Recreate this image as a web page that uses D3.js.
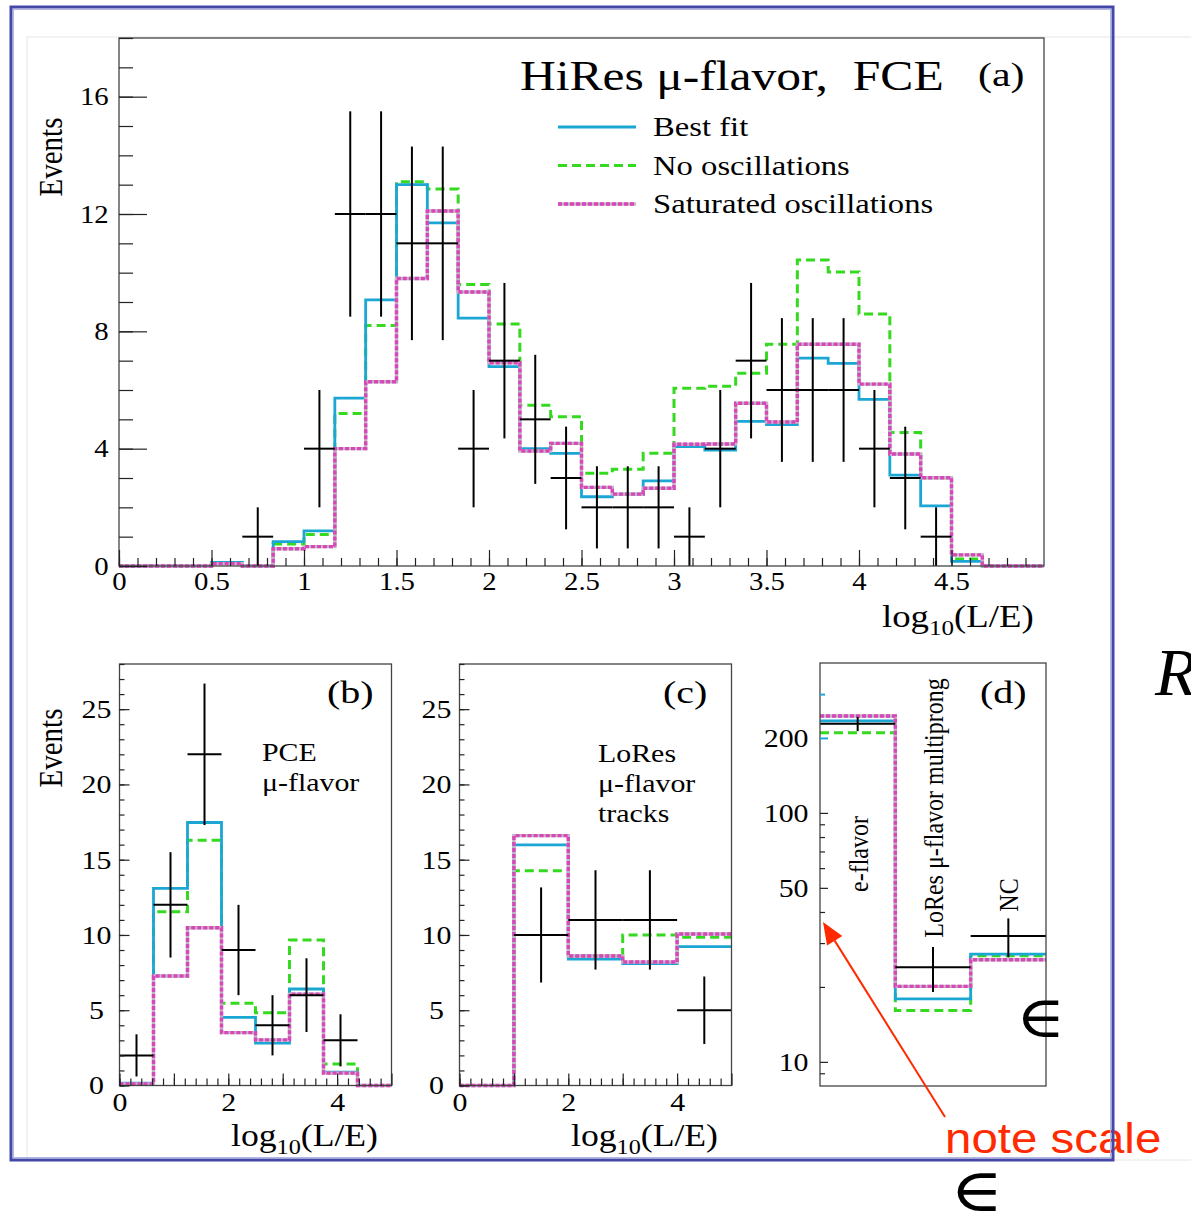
<!DOCTYPE html>
<html>
<head>
<meta charset="utf-8">
<script src="https://cdn.jsdelivr.net/npm/d3@7"></script>
<style>
  body { margin: 0; background: #fff; }
  svg { display: block; }
</style>
</head>
<body>
<svg id="fig" width="1191" height="1223"></svg>
<script>
// ---------------- data ----------------
// (a) HiRes mu-flavor, fully contained events: 30 bins of width 1/6 in log10(L/E)
const binsA = d3.range(31).map(i => i / 6);
const bestFitA = [0, 0, 0, 0.12, 0, 0.83, 1.2, 5.72, 9.07, 13.0, 11.7, 8.45, 6.8, 4.0, 3.84,
                  2.36, 2.45, 2.9, 4.07, 3.95, 4.93, 4.82, 7.09, 6.91, 5.68, 3.1, 2.05, 0.16, 0, 0];
const noOscA   = [0, 0, 0, 0.1, 0, 0.75, 1.07, 5.2, 8.2, 13.1, 12.85, 9.6, 8.25, 5.48, 5.09,
                  3.16, 3.3, 3.84, 6.06, 6.13, 6.57, 7.56, 10.43, 10.02, 8.59, 4.55, 3.01, 0.24, 0, 0];
const satOscA  = [0, 0, 0, 0.08, 0, 0.59, 0.66, 4.0, 6.28, 9.8, 12.1, 9.34, 6.93, 3.92, 4.18,
                  2.68, 2.45, 2.65, 4.15, 4.16, 5.55, 4.91, 7.56, 7.56, 6.2, 3.82, 3.01, 0.38, 0, 0];
const dataA    = [null, null, null, null, 1, null, 4, 12, 12, 11, 11, 4, 7, 5, 3,
                  2, 2, 2, 1, 4, 7, 6, 6, 6, 4, 3, 1, null, null, null];
const errA     = [null, null, null, null, 1, null, 2, 3.5, 3.5, 3.3, 3.3, 2, 2.65, 2.2, 1.75,
                  1.4, 1.4, 1.4, 1, 2, 2.65, 2.45, 2.45, 2.45, 2, 1.75, 1, null, null, null];
const yTicksA = [0, 4, 8, 12, 16];
const xTicksA = [0, 0.5, 1, 1.5, 2, 2.5, 3, 3.5, 4, 4.5];

// (b) PCE mu-flavor: 8 bins of width 0.625
const binsB = d3.range(9).map(i => i * 0.625);
const bestFitB = [0.15, 13.09, 17.47, 4.53, 2.81, 6.41, 0.89, 0];
const noOscB   = [0.1, 11.54, 16.3, 5.46, 4.84, 9.66, 1.42, 0];
const satOscB  = [0.1, 7.27, 10.48, 3.51, 3.03, 6.06, 0.82, 0];
const dataB    = [2, 12, 22, 9, 4, 6, 3, null];
const errB     = [1.4, 3.5, 4.7, 3, 2, 2.45, 1.73, null];

// (c) LoRes mu-flavor tracks: 5 bins of width 1
const binsC = [0, 1, 2, 3, 4, 5];
const bestFitC = [0, 15.98, 8.4, 8.09, 9.22];
const noOscC   = [0, 14.26, 8.6, 10.0, 9.84];
const satOscC  = [0, 16.6, 8.6, 8.2, 10.06];
const dataC    = [null, 10, 11, 11, 5];
const errC     = [null, 3.16, 3.3, 3.3, 2.24];

const yTicksBC = [0, 5, 10, 15, 20, 25];
const xTicksBC = [0, 2, 4];

// (d) event-class totals, log scale
const categoriesD = ["e-flavor", "LoRes μ-flavor multiprong", "NC"];
const binsD = [0, 1, 2, 3];
const bestFitD = [234, 17.9, 27.1];
const noOscD   = [210, 16.1, 26.7];
const satOscD  = [245, 20.1, 25.7];
const dataD    = [228, 24, 32];
const errD     = [15, 4.9, 5.7];
const yTicksD = [10, 50, 100, 200];
const yMinorD = [9, 20, 30, 40, 60, 70, 80, 90, 300];

const legendLabels = ["Best fit", "No oscillations", "Saturated oscillations"];

// ---------------- style ----------------
const FONT = '"Liberation Serif","Times New Roman","DejaVu Serif",serif';
const SX = 1.15;                // horizontal stretch of the figure lettering
const C_FIT = "#1ba6d4";
const C_NO = "#35d91f";
const C_SAT = "#d747b9";

const svg = d3.select("#fig");

// slide page edge
svg.append("rect").attr("x", 27).attr("y", 37).attr("width", 1200).attr("height", 1123)
  .attr("fill", "none").attr("stroke", "#e6e6e6").attr("stroke-width", 1);

function txt(parent, x, y, s, size, opt = {}) {
  const rot = opt.rotate ? ` rotate(${opt.rotate})` : "";
  const sx = opt.sx == null ? SX : opt.sx;
  const g = parent.append("g").attr("transform", `translate(${x},${y}) scale(${sx},1)${rot}`);
  return g.append("text")
    .attr("font-family", opt.family || FONT)
    .attr("font-size", size)
    .attr("font-style", opt.italic ? "italic" : null)
    .attr("text-anchor", opt.anchor || "start")
    .attr("fill", opt.fill || "#000")
    .attr("xml:space", "preserve")
    .style("white-space", "pre")
    .text(s);
}

function xLabel(parent, x, y, size) {
  const g = parent.append("g").attr("transform", `translate(${x},${y}) scale(${SX},1)`);
  const t = g.append("text").attr("font-family", FONT).attr("font-size", size);
  t.append("tspan").text("log");
  t.append("tspan").attr("font-size", size * 0.68).attr("dy", size * 0.25).text("10");
  t.append("tspan").attr("dy", -size * 0.25).text("(L/E)");
}

function stepPoints(edges, vals) {
  const pts = [];
  vals.forEach((v, i) => { pts.push([edges[i], v], [edges[i + 1], v]); });
  return pts;
}

function drawModels(g, x, y, edges, fit, no, sat) {
  const line = d3.line().x(d => x(d[0])).y(d => y(d[1]));
  g.append("path").attr("d", line(stepPoints(edges, no))).attr("fill", "none")
    .attr("stroke", C_NO).attr("stroke-width", 3).attr("stroke-dasharray", "9 5");
  g.append("path").attr("d", line(stepPoints(edges, fit))).attr("fill", "none")
    .attr("stroke", C_FIT).attr("stroke-width", 2.8);
  g.append("path").attr("d", line(stepPoints(edges, sat))).attr("fill", "none")
    .attr("stroke", "#c4b4c4").attr("stroke-width", 3.4);
  g.append("path").attr("d", line(stepPoints(edges, sat))).attr("fill", "none")
    .attr("stroke", C_SAT).attr("stroke-width", 3.4).attr("stroke-dasharray", "4 2");
}

function drawData(g, x, y, edges, vals, errs, w) {
  const dg = g.append("g").attr("stroke", "#000").attr("stroke-width", w || 2);
  vals.forEach((v, i) => {
    if (v == null) return;
    const c = (edges[i] + edges[i + 1]) / 2;
    dg.append("line").attr("x1", x(edges[i])).attr("x2", x(edges[i + 1]))
      .attr("y1", y(v)).attr("y2", y(v));
    dg.append("line").attr("x1", x(c)).attr("x2", x(c))
      .attr("y1", y(v - errs[i])).attr("y2", y(v + errs[i]));
  });
}

function frame(g, x, y) {
  const [x0, x1] = x.range(), [y0, y1] = y.range();
  g.append("rect").attr("x", x0).attr("y", y1).attr("width", x1 - x0).attr("height", y0 - y1)
    .attr("fill", "none").attr("stroke", "#444").attr("stroke-width", 1.3);
}

function styleTicks(sel, fs) {
  sel.select(".domain").remove();
  sel.selectAll("line").attr("stroke", "#222").attr("stroke-width", 1.2);
  sel.selectAll("text").attr("font-family", FONT).attr("font-size", fs).attr("fill", "#000")
    .attr("transform", `scale(${SX},1)`);
}

function yAxis(g, x, y, major, minor, majLen, minLen, pad, fs, fmt, anchor) {
  const x0 = x.range()[0];
  g.append("g").attr("transform", `translate(${x0},0)`)
    .call(d3.axisLeft(y).tickValues(minor).tickSize(-minLen).tickFormat(""))
    .call(s => styleTicks(s, fs));
  const a = g.append("g").attr("transform", `translate(${x0},0)`)
    .call(d3.axisLeft(y).tickValues(major).tickSize(-majLen).tickPadding(pad).tickFormat(fmt || (d => d)))
    .call(s => styleTicks(s, fs));
  if (anchor) a.selectAll("text").attr("text-anchor", anchor);
  return a;
}

function xAxis(g, x, y, labelled, major, minor, majLen, minLen, pad, fs) {
  const y0 = y.range()[0];
  g.append("g").attr("transform", `translate(0,${y0})`)
    .call(d3.axisBottom(x).tickValues(minor).tickSize(-minLen).tickFormat(""))
    .call(s => styleTicks(s, fs));
  g.append("g").attr("transform", `translate(0,${y0})`)
    .call(d3.axisBottom(x).tickValues(major).tickSize(-majLen).tickFormat(""))
    .call(s => styleTicks(s, fs));
  g.append("g").attr("transform", `translate(0,${y0})`)
    .call(d3.axisBottom(x).tickValues(labelled).tickSize(0).tickPadding(pad).tickFormat(d => String(d)))
    .call(s => styleTicks(s, fs));
}

// ---------------- panel (a) ----------------
const gA = svg.append("g");
const xA = d3.scaleLinear([0, 5], [119, 1044]);
const yA = d3.scaleLinear([0, 18], [566, 38]);
drawModels(gA, xA, yA, binsA, bestFitA, noOscA, satOscA);
drawData(gA, xA, yA, binsA, dataA, errA, 2);
frame(gA, xA, yA);
yAxis(gA, xA, yA, yTicksA, d3.range(0, 19, 1), 28, 14, 9, 25);
xAxis(gA, xA, yA, xTicksA, xTicksA, d3.range(0, 50).map(i => i / 10), 16, 8, 6, 25);
txt(gA, 62, 157, "Events", 29, { rotate: -90, anchor: "middle", sx: 1.15 });
xLabel(gA, 882, 627, 32);
txt(gA, 520, 90, "HiRes μ-flavor,  FCE", 42, { sx: 1.18 });
txt(gA, 978, 86, "(a)", 33, { sx: 1.27 });

// legend
const legendStyles = [
  { c: C_FIT, w: 2.8, dash: null },
  { c: C_NO, w: 3, dash: "9 5" },
  { c: C_SAT, w: 3.4, dash: "4 2", under: "#c4b4c4" }
];
legendLabels.forEach((lab, i) => {
  const ly = 127 + i * 38.5;
  const st = legendStyles[i];
  if (st.under) gA.append("line").attr("x1", 558).attr("x2", 636).attr("y1", ly).attr("y2", ly)
    .attr("stroke", st.under).attr("stroke-width", st.w);
  gA.append("line").attr("x1", 558).attr("x2", 636).attr("y1", ly).attr("y2", ly)
    .attr("stroke", st.c).attr("stroke-width", st.w).attr("stroke-dasharray", st.dash);
  txt(gA, 653, ly + 9, lab, 27, { sx: 1.21 });
});

// ---------------- panel (b) ----------------
const gB = svg.append("g");
const xB = d3.scaleLinear([0, 5], [119.5, 391.5]);
const yB = d3.scaleLinear([0, 28], [1085.5, 664]);
drawModels(gB, xB, yB, binsB, bestFitB, noOscB, satOscB);
drawData(gB, xB, yB, binsB, dataB, errB, 2);
frame(gB, xB, yB);
yAxis(gB, xB, yB, yTicksBC, d3.range(0, 29, 1), 10, 5, 20, 26, null, "middle");
xAxis(gB, xB, yB, xTicksBC, [0, 1, 2, 3, 4, 5], d3.range(0, 25).map(i => i / 5), 12, 7, 7, 26);
txt(gB, 62, 748, "Events", 29, { rotate: -90, anchor: "middle", sx: 1.15 });
xLabel(gB, 231, 1146, 31);
txt(gB, 327, 703, "(b)", 32, { sx: 1.25 });
txt(gB, 262, 761, "PCE", 26, { sx: 1.15 });
txt(gB, 262, 791, "μ-flavor", 26, { sx: 1.15 });

// ---------------- panel (c) ----------------
const gC = svg.append("g");
const xC = d3.scaleLinear([0, 5], [459.5, 731.5]);
const yC = d3.scaleLinear([0, 28], [1085.5, 664]);
drawModels(gC, xC, yC, binsC, bestFitC, noOscC, satOscC);
drawData(gC, xC, yC, binsC, dataC, errC, 2);
frame(gC, xC, yC);
yAxis(gC, xC, yC, yTicksBC, d3.range(0, 29, 1), 10, 5, 20, 26, null, "middle");
xAxis(gC, xC, yC, xTicksBC, [0, 1, 2, 3, 4, 5], d3.range(0, 25).map(i => i / 5), 12, 7, 7, 26);
xLabel(gC, 571, 1146, 31);
txt(gC, 663, 703, "(c)", 32, { sx: 1.25 });
txt(gC, 598, 762, "LoRes", 26, { sx: 1.15 });
txt(gC, 598, 792, "μ-flavor", 26, { sx: 1.15 });
txt(gC, 598, 822, "tracks", 26, { sx: 1.15 });

// ---------------- panel (d) ----------------
const gD = svg.append("g");
const xD = d3.scaleLinear([0, 3], [820, 1046]);
const yD = d3.scaleLog([8, 400], [1086, 663]);
drawModels(gD, xD, yD, binsD, bestFitD, noOscD, satOscD);
drawData(gD, xD, yD, binsD, dataD, errD, 2);
frame(gD, xD, yD);
yAxis(gD, xD, yD, yTicksD, yMinorD, 8, 5, 10, 26, d => d);
gD.selectAll("g.tick").filter(d => d >= 200).select("line").attr("stroke", C_FIT).attr("stroke-width", 2);
// class names written along each column
const dLabelPos = [
  { x: 868, y: 854 },
  { x: 943, y: 808 },
  { x: 1018, y: 895 }
];
categoriesD.forEach((c, i) => {
  txt(gD, dLabelPos[i].x, dLabelPos[i].y, c, 24, { rotate: -90, anchor: "middle", sx: 1.12 });
});
txt(gD, 980, 703, "(d)", 32, { sx: 1.25 });

// ---------------- annotations ----------------
const ann = svg.append("g");
const tip = [823, 922], tail = [945, 1117];
const ang = Math.atan2(tail[1] - tip[1], tail[0] - tip[0]);
const hl = 22, hw = 9;
const bx = tip[0] + hl * Math.cos(ang), by = tip[1] + hl * Math.sin(ang);
ann.append("line").attr("x1", bx).attr("y1", by).attr("x2", tail[0]).attr("y2", tail[1])
  .attr("stroke", "#ff2a00").attr("stroke-width", 2);
ann.append("polygon")
  .attr("points", [
    tip,
    [bx + hw * Math.sin(ang), by - hw * Math.cos(ang)],
    [bx - hw * Math.sin(ang), by + hw * Math.cos(ang)]
  ].map(p => p.join(",")).join(" "))
  .attr("fill", "#ff2a00");
txt(ann, 945, 1153, "note scale", 42, { family: '"Liberation Sans",Arial,sans-serif', fill: "#ff2a00", sx: 1.13 });
txt(ann, 1016, 1037, "∈", 58, { sx: 1.15 });
txt(ann, 950, 1211, "∈", 60, { sx: 1.2 });
txt(ann, 1155, 695, "R", 68, { italic: true, sx: 1 });

// slide frame
svg.append("rect").attr("x", 11).attr("y", 7).attr("width", 1102).attr("height", 1153)
  .attr("fill", "none").attr("stroke", "#4347a8").attr("stroke-width", 3);
svg.append("rect").attr("x", 13.5).attr("y", 9.5).attr("width", 1097).attr("height", 1148)
  .attr("fill", "none").attr("stroke", "#b4b6e6").attr("stroke-width", 1);
</script>
</body>
</html>
